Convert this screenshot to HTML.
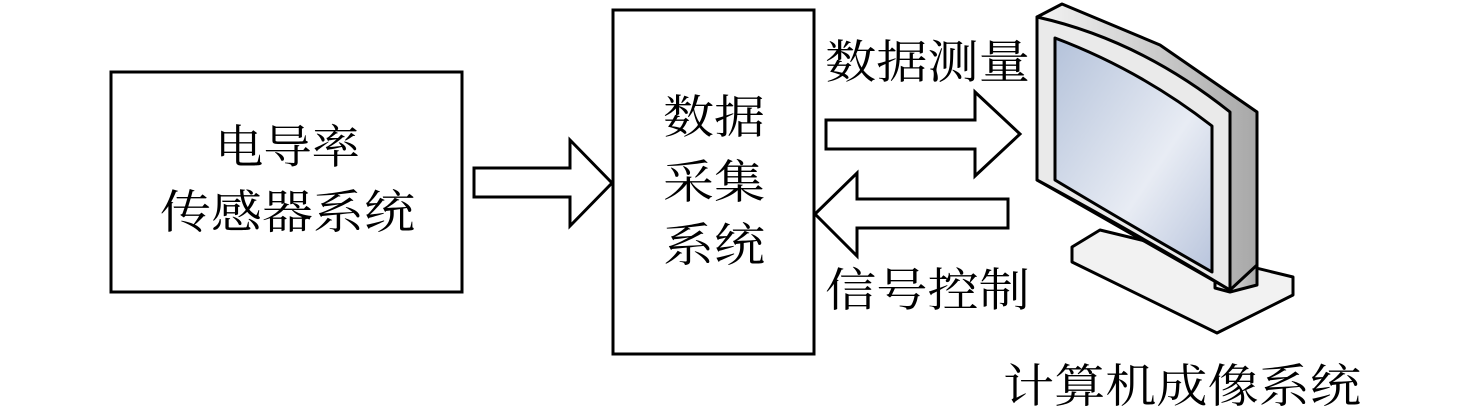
<!DOCTYPE html>
<html><head><meta charset="utf-8"><style>html,body{margin:0;padding:0;background:#fff}svg{display:block}</style></head>
<body>
<svg width="1476" height="415" viewBox="0 0 1476 415" xmlns="http://www.w3.org/2000/svg">
<defs>
<linearGradient id="scr" x1="0" y1="0" x2="1" y2="1">
<stop offset="0" stop-color="#b4c2da"/><stop offset="0.6" stop-color="#e8ecf4"/><stop offset="1" stop-color="#b8c4dc"/></linearGradient>
<linearGradient id="side" x1="0" y1="0" x2="1" y2="0">
<stop offset="0" stop-color="#f4f4f4"/><stop offset="1" stop-color="#a8a8a8"/></linearGradient>
</defs>
<g fill="#fff" stroke="#000" stroke-width="3">
<rect x="111" y="72" width="351" height="220"/>
<rect x="613" y="10" width="201" height="344"/>
<polygon points="474,168 570,168 570,140 612,183 570,226 570,197 474,197"/>
<polygon points="826,120 975,120 975,92 1020,134 975,176 975,149 826,149"/>
<polygon points="1008,199 857,199 857,173 815,214 857,256 857,228 1008,228"/>
</g>
<g font-family="'Liberation Serif','Noto Serif CJK SC',serif" font-size="46" fill="#000">
<text x="215" y="163" textLength="145" lengthAdjust="spacingAndGlyphs">电导率</text>
<text x="160" y="228" textLength="255" lengthAdjust="spacingAndGlyphs">传感器系统</text>
<text x="663" y="133" textLength="102" lengthAdjust="spacingAndGlyphs">数据</text>
<text x="663" y="198" textLength="102" lengthAdjust="spacingAndGlyphs">采集</text>
<text x="663" y="261" textLength="102" lengthAdjust="spacingAndGlyphs">系统</text>
<text x="825" y="78" textLength="205" lengthAdjust="spacingAndGlyphs">数据测量</text>
<text x="825" y="306" textLength="205" lengthAdjust="spacingAndGlyphs">信号控制</text>
<text x="1003" y="402" textLength="358" lengthAdjust="spacingAndGlyphs">计算机成像系统</text>
</g>
<g stroke="#000" stroke-width="3" stroke-linejoin="round">
<polygon points="1072,247 1100,230 1293,277 1293,295 1217,333 1072,262" fill="#f2f2f2"/>
<polygon points="1215,225 1257,230 1257,285 1230,292 1215,288" fill="url(#side)"/>
<polygon points="1037,17 1062,4 1160,45 1257,112 1257,265 1230,290 1037,180" fill="url(#side)"/>
<path d="M1037,17 Q1140,40 1230,112 L1230,290 Q1130,230 1037,180 Z" fill="#eaeaea"/>
<path d="M1055,38 Q1140,70 1212,126 L1212,272 Q1130,225 1055,180 Z" fill="url(#scr)"/>
</g>
</svg>
</body></html>
